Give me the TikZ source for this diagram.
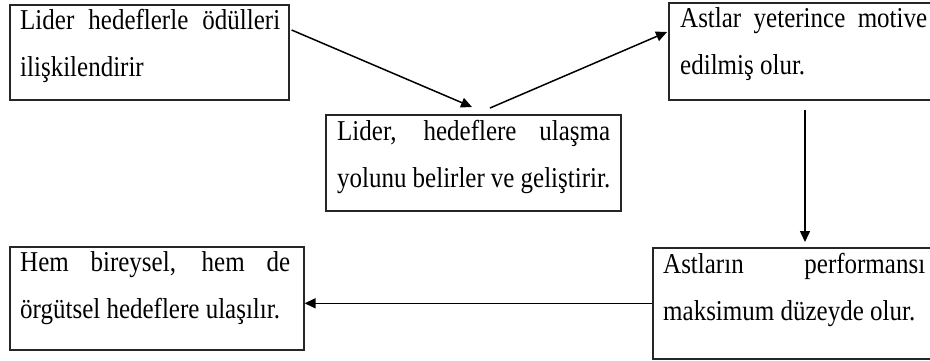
\documentclass[tikz,border=0pt]{standalone}
\usepackage{fontspec}
\setmainfont{Liberation Serif}
\usetikzlibrary{arrows.meta,calc}
\tikzset{
  boxnode/.style={draw=black!85, line width=1.6pt, inner sep=0pt, anchor=north west},
  txtnode/.style={inner sep=0pt, anchor=base west, font=\fontsize{25}{40.9}\selectfont},
  conn/.style={line width=1.5pt, -{Triangle[length=11pt,width=10pt]}}
}
\newcommand{\bxtext}[2]{\scalebox{1}[1.15]{\parbox[t]{#1}{\hbadness=10000 #2}}}
\begin{document}
\begin{tikzpicture}[x=1pt,y=-1pt]
\clip (0,0) rectangle (930,360);
\fill[white] (0,0) rectangle (930,360);
% boxes
\node[boxnode, minimum width=279pt, minimum height=95pt] (b1) at (9,4) {};
\node[boxnode, minimum width=295pt, minimum height=96pt] (b2) at (325,114) {};
\node[boxnode, minimum width=290pt, minimum height=97pt] (b3) at (668,2) {};
\node[boxnode, minimum width=294pt, minimum height=103pt] (b4) at (9,246) {};
\node[boxnode, minimum width=300pt, minimum height=111pt] (b5) at (652,247) {};
% texts
\node[txtnode] (t1) at (20,29) {\bxtext{260pt}{Lider hedeflerle ödülleri\linebreak ilişkilendirir}};
\node[txtnode] (t2) at (337,140) {\bxtext{273pt}{Lider, hedeflere ulaşma\linebreak yolunu belirler ve geliştirir.}};
\node[txtnode] (t3) at (680,27) {\bxtext{247pt}{Astlar yeterince motive\linebreak edilmiş olur.}};
\node[txtnode] (t4) at (20,271) {\bxtext{270pt}{Hem bireysel, hem de\linebreak örgütsel hedeflere ulaşılır.}};
\node[txtnode] (t5) at (663,273) {\bxtext{262pt}{Astların performansı\linebreak maksimum düzeyde olur.}};
% connector end points
\coordinate (s1) at ($(b1.north east)+(2,26)$);
\coordinate (e1) at ($(b2.north west)+(147,-7)$);
\coordinate (s2) at ($(b2.north west)+(165,-6)$);
\coordinate (e2) at ($(b3.north west)+(-1,30)$);
\coordinate (s3) at ($(b3.south west)+(137,9)$);
\coordinate (e3) at ($(b5.north west)+(153,-5)$);
% connectors
\draw[conn] (s1) -- (e1);
\draw[conn] (s2) -- (e2);
\draw[conn] (s3) -- (e3);
\draw[conn] (b5.west) -- (b4.east |- b5.west);
\end{tikzpicture}
\end{document}
